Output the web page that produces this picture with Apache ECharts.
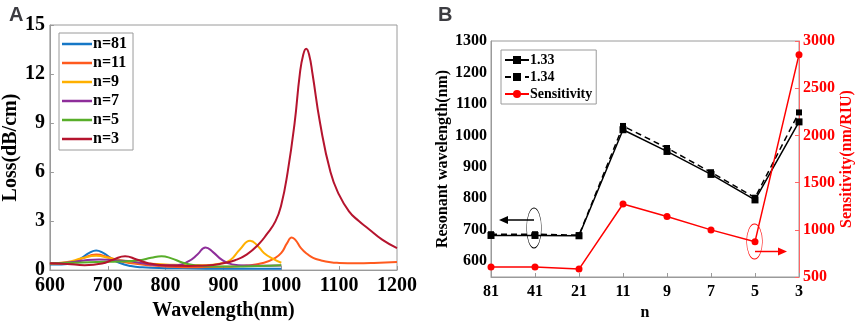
<!DOCTYPE html>
<html>
<head>
<meta charset="utf-8">
<script src="https://cdn.jsdelivr.net/npm/echarts@6/dist/echarts.min.js"></script>
<style>
  html, body { margin: 0; padding: 0; background: #fff; }
  #chart { width: 858px; height: 326px; }
</style>
</head>
<body>
<div id="chart"></div>
<script>
// panel A: loss spectra, [wavelength nm, loss dB/cm]
const loss81 = [[600,0.35],[620,0.35],[640,0.45],[655,0.75],[668,1.05],[680,1.2],[692,1.05],[705,0.75],[720,0.45],[740,0.25],[760,0.17],[800,0.12],[850,0.1],[900,0.08],[950,0.08],[1000,0.08]];
const loss11 = [[600,0.38],[630,0.42],[655,0.7],[680,0.95],[700,0.8],[720,0.55],[745,0.4],[770,0.3],[800,0.22],[850,0.17],[900,0.2],[940,0.28],[970,0.45],[988,0.72],[1000,1.05],[1010,1.65],[1018,2.0],[1025,1.82],[1034,1.35],[1045,0.98],[1055,0.75],[1068,0.6],[1085,0.48],[1100,0.44],[1130,0.42],[1160,0.44],[1200,0.5]];
const loss9 = [[600,0.42],[630,0.5],[655,0.72],[680,0.88],[705,0.72],[730,0.55],[760,0.42],[800,0.35],[840,0.3],[870,0.3],[895,0.4],[912,0.62],[928,1.25],[946,1.8],[960,1.45],[970,1.05],[985,0.7],[1000,0.45]];
const loss7 = [[600,0.4],[640,0.5],[665,0.62],[685,0.65],[710,0.6],[735,0.55],[760,0.42],[790,0.3],[820,0.3],[840,0.55],[855,0.95],[869,1.39],[882,1.1],[897,0.64],[915,0.35],[940,0.28],[970,0.27],[1000,0.28]];
const loss5 = [[600,0.4],[640,0.45],[680,0.5],[720,0.52],[755,0.6],[775,0.75],[793,0.85],[810,0.72],[830,0.45],[850,0.3],[880,0.22],[920,0.22],[960,0.25],[1000,0.3]];
const loss3 = [[600,0.42],[630,0.38],[660,0.3],[690,0.4],[710,0.65],[730,0.85],[750,0.65],[770,0.42],[800,0.28],[840,0.25],[870,0.28],[900,0.42],[920,0.6],[940,0.95],[960,1.55],[975,2.2],[990,3.0],[1000,4.0],[1011,6.0],[1023,9.0],[1032,12.0],[1038,13.2],[1043,13.55],[1048,13.2],[1054,12.0],[1067,9.0],[1085,6.0],[1100,4.6],[1117,3.6],[1134,3.0],[1150,2.55],[1175,1.85],[1200,1.35]];

// panel B: resonant wavelength and sensitivity vs n
const nLabels = ['81', '41', '21', '11', '9', '7', '5', '3'];
const res133 = [682, 682, 681, 1018, 949, 876, 795, 1043];
const res134 = [686, 686, 683, 1030, 960, 883, 802, 1073];
const sensitivity = [605, 605, 584, 1273, 1140, 999, 874, 2855];

const SERIF = '"Liberation Serif", "DejaVu Serif", serif';
const GRAY = '#9a9a9a';

const chart = echarts.init(document.getElementById('chart'));

const lossSeries = [
  ['n=81', loss81, '#1677c6'],
  ['n=11', loss11, '#ff5a1e'],
  ['n=9', loss9, '#ffb000'],
  ['n=7', loss7, '#8e2e9a'],
  ['n=5', loss5, '#58ae2a'],
  ['n=3', loss3, '#b5142e'],
].map(([name, data, color]) => ({
  name, type: 'line', xAxisIndex: 0, yAxisIndex: 0,
  data, symbol: 'none', smooth: 0.5,
  lineStyle: { width: 2, color }, itemStyle: { color },
}));

const tickLabel = { fontFamily: SERIF, fontWeight: 'bold', color: '#000', formatter: v => String(v) };

chart.setOption({
  animation: false,
  title: [
    { text: 'A', left: 4, top: 0, textStyle: { fontFamily: 'Liberation Sans', fontWeight: 'bold', fontSize: 20 } },
    { text: 'B', left: 433, top: 0, textStyle: { fontFamily: 'Liberation Sans', fontWeight: 'bold', fontSize: 20 } },
  ],
  grid: [
    { left: 46, top: 25, width: 351, height: 249, show: true, borderColor: GRAY, borderWidth: 1 },
    { left: 491, top: 41, width: 308, height: 236, show: true, borderColor: GRAY, borderWidth: 1 },
  ],
  legend: [
    {
      data: ['n=81', 'n=11', 'n=9', 'n=7', 'n=5', 'n=3'],
      icon: 'rect',
      orient: 'vertical', left: 59, top: 33,
      itemWidth: 30, itemHeight: 2.5, itemGap: 3,
      padding: [3, 6, 3, 3],
      borderColor: GRAY, borderWidth: 1, backgroundColor: '#fff',
      textStyle: { fontFamily: SERIF, fontWeight: 'bold', fontSize: 16, color: '#000', lineHeight: 16, padding: [0, 0, 0, -4] },
    },
    {
      data: ['1.33', '1.34', 'Sensitivity'],
      orient: 'vertical', left: 501, top: 50,
      itemWidth: 24, itemHeight: 10, itemGap: 3,
      padding: [3, 4, 3, 3],
      borderColor: GRAY, borderWidth: 1, backgroundColor: '#fff',
      textStyle: { fontFamily: SERIF, fontWeight: 'bold', fontSize: 14, color: '#000', padding: [0, 0, 0, -4] },
    },
  ],
  xAxis: [
    {
      type: 'value', gridIndex: 0, min: 600, max: 1200, interval: 100,
      name: 'Wavelength(nm)', nameLocation: 'middle', nameGap: 29,
      nameTextStyle: { fontFamily: SERIF, fontWeight: 'bold', fontSize: 20, color: '#000' },
      axisLine: { lineStyle: { color: GRAY } },
      axisTick: { inside: true, length: 4, lineStyle: { color: GRAY } },
      axisLabel: { ...tickLabel, fontSize: 20, margin: 6 },
      splitLine: { show: false },
    },
    {
      type: 'category', gridIndex: 1, data: nLabels, boundaryGap: false,
      name: 'n', nameLocation: 'middle', nameGap: 24,
      nameTextStyle: { fontFamily: SERIF, fontWeight: 'bold', fontSize: 16, color: '#000' },
      axisLine: { lineStyle: { color: GRAY } },
      axisTick: { inside: true, length: 4, lineStyle: { color: GRAY } },
      axisLabel: { fontFamily: SERIF, fontWeight: 'bold', color: '#000', fontSize: 16, margin: 7 },
      splitLine: { show: false },
    },
  ],
  yAxis: [
    {
      type: 'value', gridIndex: 0, min: 0, max: 15, interval: 3,
      name: 'Loss(dB/cm)', nameLocation: 'middle', nameGap: 26,
      nameTextStyle: { fontFamily: SERIF, fontWeight: 'bold', fontSize: 20, color: '#000' },
      axisLine: { show: true, lineStyle: { color: GRAY } },
      axisTick: { show: true, inside: true, length: 4, lineStyle: { color: GRAY } },
      axisLabel: { ...tickLabel, fontSize: 20, margin: 5 },
      splitLine: { show: false },
    },
    {
      type: 'value', gridIndex: 1, min: 550, max: 1300, interval: 50,
      name: 'Resonant wavelength(nm)', nameLocation: 'middle', nameGap: 38,
      nameTextStyle: { fontFamily: SERIF, fontWeight: 'bold', fontSize: 16, color: '#000' },
      axisLine: { show: true, lineStyle: { color: GRAY } },
      axisTick: { show: false },
      axisLabel: { ...tickLabel, fontSize: 16, margin: 4, formatter: v => (v % 100 === 0 ? String(v) : '') },
      splitLine: { show: false },
    },
    {
      type: 'value', gridIndex: 1, position: 'right', min: 500, max: 3000, interval: 500,
      name: 'Sensitivity(nm/RIU)', nameLocation: 'middle', nameGap: 40,
      nameTextStyle: { fontFamily: SERIF, fontWeight: 'bold', fontSize: 16, color: '#ff0000' },
      axisLine: { show: true, lineStyle: { color: '#ff6666' } },
      axisTick: { show: true, inside: true, length: 4, lineStyle: { color: '#ff6666' } },
      axisLabel: { ...tickLabel, fontSize: 16, margin: 4, color: '#ff0000' },
      splitLine: { show: false },
    },
  ],
  series: [
    ...lossSeries,
    {
      name: '1.33', type: 'line', xAxisIndex: 1, yAxisIndex: 1, data: res133,
      symbol: 'rect', symbolSize: 7, lineStyle: { width: 1.5, color: '#000' }, itemStyle: { color: '#000' },
    },
    {
      name: '1.34', type: 'line', xAxisIndex: 1, yAxisIndex: 1, data: res134,
      symbol: 'rect', symbolSize: 6, lineStyle: { width: 1.5, color: '#000', type: [6, 4] }, itemStyle: { color: '#000' },
    },
    {
      name: 'Sensitivity', type: 'line', xAxisIndex: 1, yAxisIndex: 2, data: sensitivity,
      symbol: 'circle', symbolSize: 7, lineStyle: { width: 1.5, color: '#ff0000' }, itemStyle: { color: '#ff0000' },
    },
  ],
  graphic: [
    // black ellipse + arrow pointing to the left axis
    { type: 'circle', x: 534, y: 228, scaleX: 0.37, scaleY: 1, shape: { cx: 0, cy: 0, r: 20 },
      style: { fill: 'none', stroke: '#000', lineWidth: 1.2, strokeNoScale: true } },
    { type: 'line', shape: { x1: 534, y1: 220, x2: 505, y2: 220 }, style: { stroke: '#000', lineWidth: 1.5 } },
    { type: 'polygon', shape: { points: [[499, 220], [508, 216], [508, 224]] }, style: { fill: '#000' } },
    // red ellipse + arrow pointing to the right axis
    { type: 'circle', x: 754.5, y: 241.5, scaleX: 0.45, scaleY: 1, shape: { cx: 0, cy: 0, r: 17.5 },
      style: { fill: 'none', stroke: '#ff0000', lineWidth: 1.2, strokeNoScale: true } },
    { type: 'line', shape: { x1: 755, y1: 251.5, x2: 780, y2: 251.5 }, style: { stroke: '#ff0000', lineWidth: 1.5 } },
    { type: 'polygon', shape: { points: [[787, 251.5], [778, 247.5], [778, 255.5]] }, style: { fill: '#ff0000' } },
  ],
});
</script>
</body>
</html>
